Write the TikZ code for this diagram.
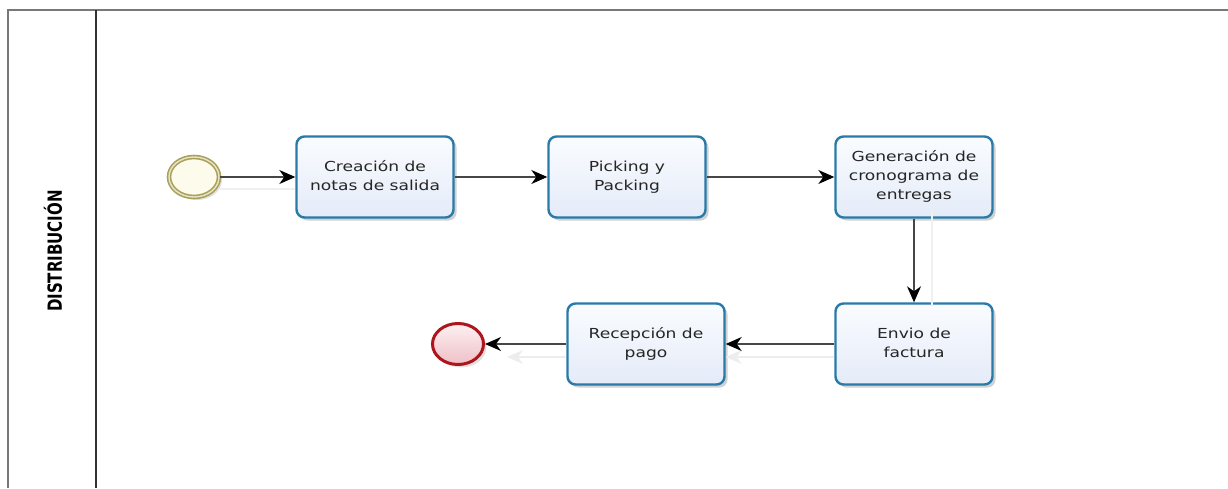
\documentclass[tikz,border=0pt]{standalone}
\usepackage{fontspec}
\setmainfont{DejaVu Sans}
\usetikzlibrary{arrows.meta,shadows,shapes.geometric}
\definecolor{taskblue}{RGB}{40,122,168}
\definecolor{taskfillA}{RGB}{250,252,255}
\definecolor{taskfillB}{RGB}{228,235,248}
\definecolor{olivec}{RGB}{168,160,92}
\definecolor{olivegap}{RGB}{232,228,196}
\definecolor{startfill}{RGB}{253,252,236}
\definecolor{endred}{RGB}{172,22,28}
\definecolor{endfillA}{RGB}{253,240,242}
\definecolor{endfillB}{RGB}{238,192,198}
\definecolor{linegray}{RGB}{70,70,70}
\definecolor{poolgray}{RGB}{120,120,120}
\definecolor{lanedark}{RGB}{50,50,50}
\newcommand{\tasktext}[1]{\scalebox{1.24}[1]{\begin{tabular}{@{}c@{}}#1\end{tabular}}}
\begin{document}
\begin{tikzpicture}[x=1pt,y=-1pt,
  task/.style={draw=taskblue, line width=2.4pt, rounded corners=8pt,
    minimum width=157pt, minimum height=81pt, inner sep=0pt,
    top color=taskfillA, bottom color=taskfillB,
    drop shadow={shadow xshift=3pt, shadow yshift=-3pt, opacity=0.18, fill=black},
    text=black!85, font=\fontsize{13.8}{19}\selectfont},
  startev/.style={ellipse, draw=olivec, line width=1.6pt, double=olivegap,
    double distance=1.4pt, fill=startfill, minimum width=50pt, minimum height=40pt,
    inner sep=0pt,
    drop shadow={shadow xshift=3pt, shadow yshift=-3pt, opacity=0.12, fill=black}},
  endev/.style={ellipse, draw=endred, line width=3pt, top color=endfillA,
    bottom color=endfillB, minimum width=51pt, minimum height=41pt, inner sep=0pt,
    drop shadow={shadow xshift=3pt, shadow yshift=-3pt, opacity=0.12, fill=black}},
  flow/.style={draw=linegray, line width=1.4pt,
    -{Stealth[length=16pt, width=14pt, inset=5pt, color=black]}},
  ghost/.style={draw=black!7, line width=1.4pt,
    -{Stealth[length=16pt, width=14pt, inset=5pt]}},
  ghostline/.style={draw=black!6, line width=1.4pt},
  pool/.style={draw=poolgray, line width=2pt},
  lanediv/.style={draw=lanedark, line width=1.8pt},
]
\useasboundingbox (0,0) rectangle (1228,488);
% pool frame
\coordinate (pTL) at (8,10);
\coordinate (pTR) at (1228,10);
\coordinate (pBL) at (8,488);
\coordinate (dT) at (96,10);
\coordinate (dB) at (96,488);
\draw[pool] (pBL) -- (pTL) -- (pTR);
\draw[lanediv] (dT) -- (dB);
\node[rotate=90, inner sep=0pt] (lane) at (53,251)
  {\scalebox{1}[1.3]{\fontsize{15}{15}\selectfont\bfseries DISTRIBUCIÓN}};
% nodes
\node[startev] (s) at (194,177) {};
\node[task] (t1) at (375,177) {\tasktext{Creación de\\notas de salida}};
\node[task] (t2) at (627,177) {\tasktext{Picking y\\Packing}};
\node[task] (t3) at (914,177) {\tasktext{Generación de\\cronograma de\\entregas}};
\node[task] (t4) at (914,344) {\tasktext{Envio de\\factura}};
\node[task] (t5) at (646,344) {\tasktext{Recepción de\\pago}};
\node[endev] (e) at (458,344) {};
% ghost shadows of connectors
\draw[ghost] ([yshift=-13pt]t4.west) -- ([yshift=-13pt]t5.east);
\draw[ghost] ([yshift=-13pt]t5.west) -- ([yshift=-13pt,xshift=22pt]e.east);
\draw[ghostline] ([xshift=18pt,yshift=8pt]t3.south) -- ([xshift=18pt,yshift=-4pt]t4.north);
\draw[ghostline] ([yshift=-12pt]s.east) -- ([yshift=-12pt]t1.west);
% flows
\draw[flow] (s.east) -- (t1.west);
\draw[flow] (t1.east) -- (t2.west);
\draw[flow] (t2.east) -- (t3.west);
\draw[flow] (t3.south) -- (t4.north);
\draw[flow] (t4.west) -- (t5.east);
\draw[flow] (t5.west) -- (e.east);
\end{tikzpicture}
\end{document}
